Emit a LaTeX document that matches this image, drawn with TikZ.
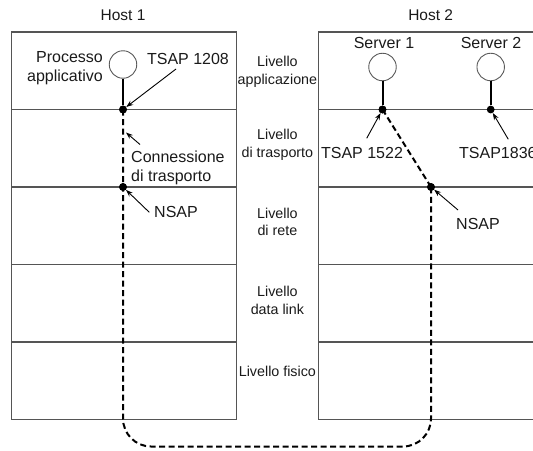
\documentclass[tikz,border=0pt]{standalone}
\usepackage{fontspec}
\setmainfont{Liberation Sans}
\usetikzlibrary{arrows.meta}
\definecolor{ink}{HTML}{1A1A1A}
\definecolor{boxgray}{HTML}{555555}
\definecolor{circgray}{HTML}{5A5A5A}

\begin{document}
\begin{tikzpicture}[x=1pt,y=-1pt,
  frame/.style={draw=boxgray,line width=1.1pt},
  proc/.style={circle,draw=circgray,line width=0.9pt,minimum size=27.5pt,inner sep=0pt,fill=white},
  sap/.style={circle,fill=black,minimum size=7.8pt,inner sep=0pt},
  stem/.style={draw=black,line width=2pt},
  conn/.style={draw=black,line width=2pt,dash pattern=on 6pt off 3.5pt},
  ptr/.style={draw=black,line width=0.9pt,-{Stealth[length=7pt,width=5pt]}},
  side/.style={font=\fontsize{16}{18.5}\selectfont,text=ink,inner sep=0pt,anchor=base},
  hostlbl/.style={font=\fontsize{15.5}{18}\selectfont,text=ink,inner sep=0pt,anchor=base},
  mid/.style={font=\fontsize{14.3}{17.4}\selectfont,text=ink,inner sep=0pt,anchor=base,align=center},
]
\useasboundingbox (0,0) rectangle (533,450);
\clip (0,0) rectangle (533,450);

% host stacks
\draw[frame] (11.5,32) rectangle (236.5,419.5);
\foreach \yy in {109.5,187,264.5,342}
  \draw[frame] (11.5,\yy) -- (236.5,\yy);
\draw[frame] (545,32) -- (318.3,32) -- (318.3,419.5) -- (545,419.5);
\foreach \yy in {109.5,187,264.5,342}
  \draw[frame] (318.3,\yy) -- (545,\yy);

% processes and access points
\node[proc] (p1) at (123,64.5) {};
\node[proc] (s1) at (382.5,67) {};
\node[proc] (s2) at (490.7,67) {};
\node[sap] (d1) at (123,109.5) {};
\node[sap] (d2) at (123,187) {};
\node[sap] (d3) at (382.5,109.5) {};
\node[sap] (d4) at (490.7,109.5) {};
\node[sap] (d5) at (431,187) {};

% transport connection
\coordinate (bl) at (123,446.5);
\coordinate (br) at (431,446.5);
\draw[conn,rounded corners=28pt] (d1.center) -- (bl) -- (br) -- (d5.center);
\draw[conn] (d5.center) -- (d3.center);
\node[sap] at (d1) {};
\node[sap] at (d2) {};
\node[sap] at (d3) {};
\node[sap] at (d5) {};

\draw[stem] (p1) -- (d1);
\draw[stem] (s1) -- (d3);
\draw[stem] (s2) -- (d4);

% labels (multi-line nodes are placed by the baseline of their last line)
\node[hostlbl] (h1) at (123,20) {Host 1};
\node[hostlbl] (h2) at (430.7,20) {Host 2};
\node[side,anchor=base east,align=right] (pa) at (103,81) {Processo\\applicativo};
\node[side] (t1) at (188,64.3) {TSAP 1208};
\node[side,anchor=base west,align=left,font=\fontsize{16}{19}\selectfont] (cn) at (131,181.7) {Connessione\\di trasporto};
\node[side,anchor=base west] (n1) at (154,217.3) {NSAP};
\node[side] (sv1) at (384,48.3) {Server 1};
\node[side] (sv2) at (491,48.3) {Server 2};
\node[side] (t2) at (362,158.5) {TSAP 1522};
\node[side,anchor=base west] (t3) at (459,158) {TSAP1836};
\node[side,anchor=base west] (n2) at (456,229.3) {NSAP};

\node[mid] (m1) at (277.4,84) {Livello\\applicazione};
\node[mid] (m2) at (277.4,157.3) {Livello\\di trasporto};
\node[mid] (m3) at (277.4,235.7) {Livello\\di rete};
\node[mid] (m4) at (277.4,314.3) {Livello\\data link};
\node[mid] (m5) at (277.4,376.7) {Livello fisico};

% pointers
\coordinate (a1) at (176,69);
\coordinate (a2) at (140,144.5);
\coordinate (c2) at (126,132.5);
\coordinate (a3) at (149.3,212.3);
\coordinate (a4) at (366.7,138.3);
\coordinate (a5) at (508.3,139.3);
\coordinate (a6) at (458,210);
\draw[ptr] (a1) -- (d1);
\draw[ptr] (a2) -- (c2);
\draw[ptr] (a3) -- (d2);
\draw[ptr] (a4) -- (d3);
\draw[ptr] (a5) -- (d4);
\draw[ptr] (a6) -- (d5);
\end{tikzpicture}
\end{document}
